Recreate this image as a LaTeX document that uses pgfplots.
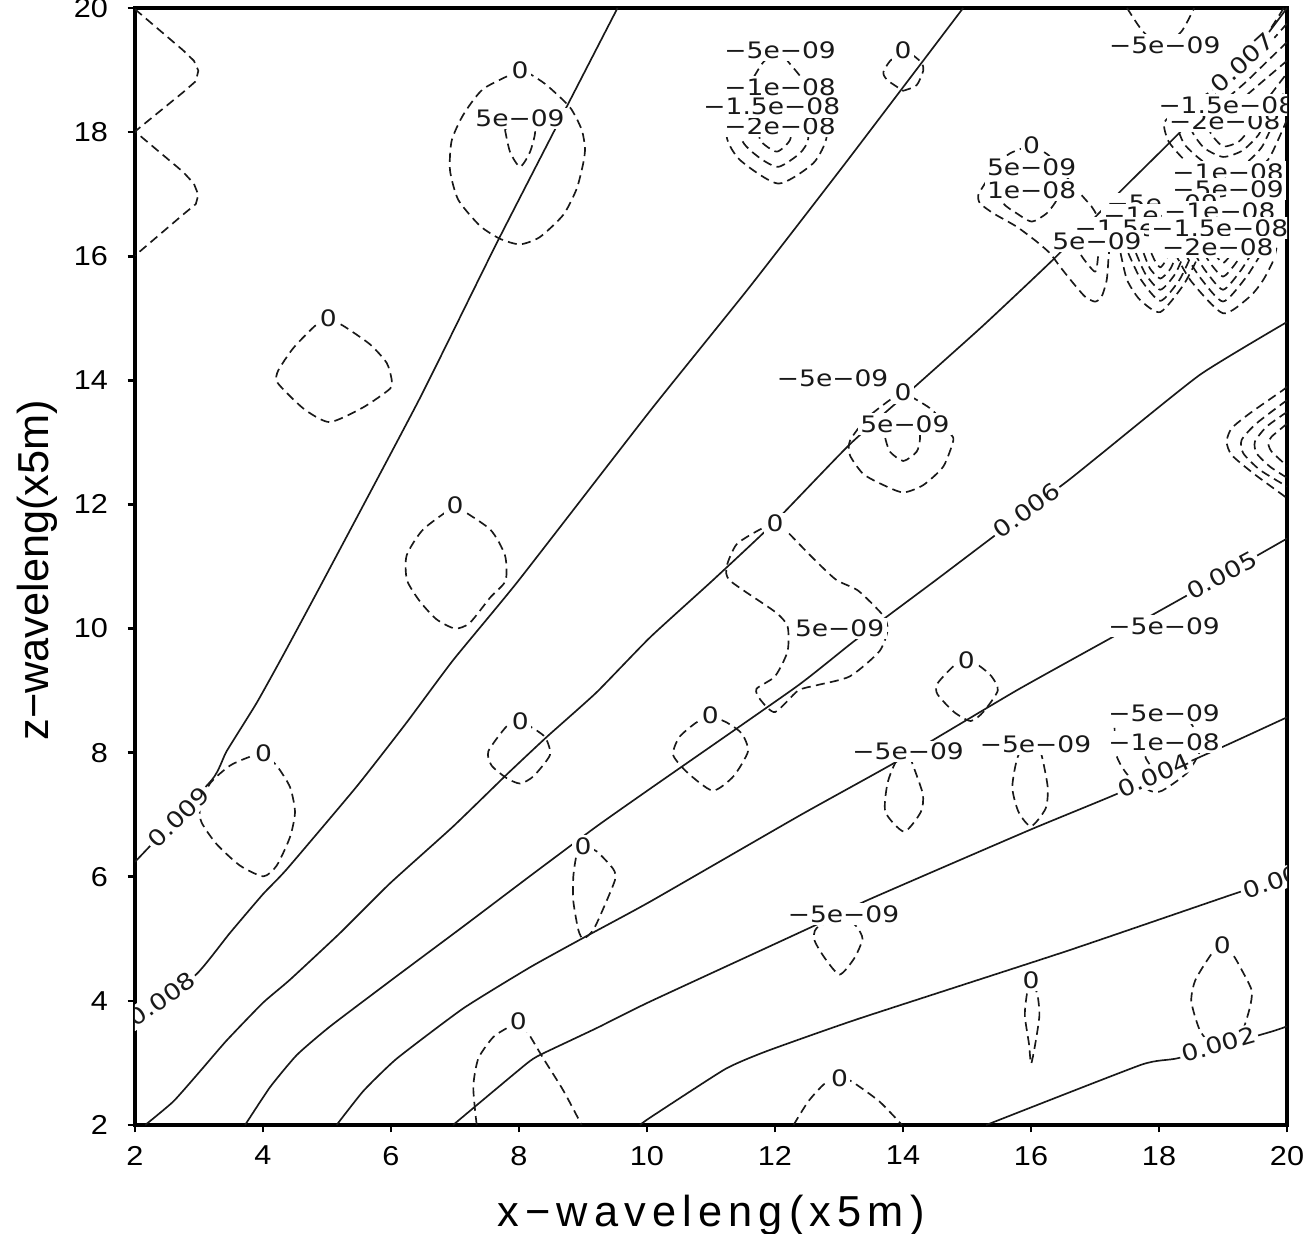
\documentclass[border=0pt]{standalone}
\usepackage{fontspec}
\setmainfont{Liberation Sans}
\newfontfamily\clabfont[FakeStretch=1.17]{DejaVu Sans}
\newfontfamily\xlabfont[LetterSpace=14.3]{Liberation Sans}
\newfontfamily\tickfont[FakeStretch=1.12]{Liberation Sans}
\usepackage{pgfplots}
\pgfplotsset{compat=1.18}
\pgfplotsset{
  sol/.style={black!90, line width=0.5pt, line join=round, smooth, tension=0.3},
  dsh/.style={black!90, line width=0.5pt, dash pattern=on 2.7pt off 1.6pt, line join=round, smooth, tension=0.4},
  dshp/.style={black!90, line width=0.5pt, dash pattern=on 2.7pt off 1.6pt, line join=round},
}
\tikzset{lab/.style={font=\fontsize{6.8}{8}\clabfont, fill=white, inner sep=0.7pt, text=black!90}}
\begin{document}
\begin{tikzpicture}
\begin{axis}[name=ax, at={(0,0)}, anchor=south west, scale only axis,
  width=345.6pt, height=335.1pt,
  xmin=2, xmax=20, ymin=2, ymax=20,
  xtick={2,4,...,20}, ytick={2,4,...,20},
  tick pos=left, tick align=outside, major tick length=2.2pt,
  every tick/.style={black, line width=0.8pt},
  axis line style={black, line width=1.1pt},
  /pgf/number format/assume math mode=true,
  tick label style={font=\fontsize{8.2}{10}\tickfont},
  xticklabel style={yshift=-0.6pt},
  yticklabel style={xshift=-2.4pt},
  xlabel={x−waveleng(x5m)}, ylabel={z−waveleng(x5m)},
  xlabel style={at={(axis description cs:0.5,-0.0913)}, anchor=base, font=\fontsize{13}{15}\xlabfont},
  ylabel style={at={(axis description cs:-0.0851,0.4968)}, anchor=center, font=\fontsize{13}{15}\selectfont},
]
% ---------- solid contours ----------
\addplot[sol] coordinates {(2.0,6.24)(3.2,7.56)(3.43,8.02)(3.90,8.80)(4.32,9.58)(4.94,10.77)(6.45,13.71)(7.70,16.31)(9.54,20.0)};
\addplot[sol] coordinates {(2.0,3.65)(2.96,4.43)(3.48,5.09)(4.0,5.72)(4.37,6.12)(5.46,7.45)(6.24,8.48)(6.97,9.49)(7.99,10.77)(10.05,13.51)(11.6,15.5)(13.1,17.5)(14.94,20.0)};
\addplot[sol] coordinates {(2.16,2.0)(2.6,2.38)(3.02,2.87)(3.43,3.36)(4.0,3.97)(4.42,4.34)(5.2,5.09)(5.98,5.89)(6.97,6.81)(7.81,7.65)(8.43,8.25)(9.21,8.97)(10.05,9.86)(11.03,10.78)(11.97,11.69)(13.17,12.97)(14.21,13.92)(15.25,14.88)(16.35,15.95)(17.44,17.09)(18.33,18.0)(19.34,19.11)(20.0,20.0)};
\addplot[sol] coordinates {(3.72,2.0)(4.11,2.61)(4.53,3.13)(5.05,3.59)(6.09,4.40)(7.13,5.20)(8.17,6.01)(9.21,6.81)(10.05,7.42)(12.33,9.06)(13.24,9.80)(14.5,10.77)(15.41,11.48)(16.56,12.37)(17.08,12.8)(18.64,14.09)(20.0,14.94)};
\addplot[sol] coordinates {(5.15,2.0)(5.57,2.55)(6.09,3.07)(7.13,3.88)(8.17,4.54)(9.03,5.03)(10.05,5.60)(12.39,6.99)(13.89,7.85)(15.77,9.0)(17.27,9.86)(18.38,10.50)(20.0,11.45)};
\addplot[sol] coordinates {(6.97,2.0)(7.34,2.32)(8.12,2.99)(8.33,3.13)(9.21,3.56)(10.05,3.99)(12.59,5.2)(13.46,5.63)(15.97,6.75)(17.33,7.33)(19.03,8.11)(20.0,8.57)};
\addplot[sol] coordinates {(9.89,2.0)(10.05,2.12)(11.22,2.9)(11.87,3.19)(13.3,3.71)(16.55,4.8)(19.16,5.72)(20.0,6.0)};
\addplot[sol] coordinates {(15.3,2.0)(17.72,2.97)(18.31,3.08)(19.74,3.5)(20.0,3.59)};
% ---------- dashed contours ----------
\addplot[dshp] coordinates {(2.0,19.98)(2.75,19.32)(2.92,19.15)(2.99,18.99)(2.95,18.82)(2.75,18.64)(2.0,18.01)(2.75,17.36)(2.92,17.17)(2.99,16.99)(2.95,16.84)(2.75,16.67)(2.0,16.01)};
\addplot[dsh] coordinates {(8.016,18.995)(7.443,18.697)(7.13,18.28)(6.948,17.862)(6.922,17.384)(7.052,16.907)(7.39,16.49)(7.703,16.281)(8.016,16.191)(8.328,16.31)(8.693,16.668)(8.901,17.086)(9.005,17.504)(9.031,17.742)(8.979,18.04)(8.797,18.399)(8.432,18.757)(8.172,18.936)(8.016,18.995)};
\addplot[dsh] coordinates {(7.781,18.04)(7.86,17.68)(8.016,17.44)(8.172,17.68)(8.25,18.04)(8.016,18.2)(7.781,18.04)};
\addplot[dsh] coordinates {(5.021,14.998)(4.813,14.878)(4.474,14.52)(4.24,14.163)(4.214,13.983)(4.422,13.745)(4.682,13.506)(5.047,13.327)(5.568,13.566)(5.984,13.864)(6.01,14.013)(5.932,14.282)(5.672,14.58)(5.255,14.878)(5.021,14.998)};
\addplot[dsh] coordinates {(7.0,11.98)(7.547,11.6)(7.781,11.18)(7.79,10.77)(7.55,10.5)(7.23,10.09)(7.0,10.0)(6.71,10.15)(6.45,10.44)(6.25,10.78)(6.245,11.18)(6.505,11.6)(7.0,11.98)};
\addplot[dsh] coordinates {(4.01,7.99)(3.797,7.935)(3.484,7.791)(3.172,7.503)(3.016,7.101)(3.042,6.871)(3.276,6.525)(3.641,6.18)(4.005,6.007)(4.214,6.18)(4.422,6.64)(4.5,7.043)(4.422,7.446)(4.214,7.791)(4.01,7.99)};
\addplot[dsh] coordinates {(8.016,8.51)(7.807,8.424)(7.521,8.021)(7.573,7.791)(7.807,7.59)(8.016,7.503)(8.224,7.618)(8.484,7.964)(8.406,8.251)(8.172,8.424)(8.016,8.51)};
\addplot[dsh] coordinates {(9.005,6.5)(8.901,6.353)(8.849,6.007)(8.849,5.605)(8.927,5.144)(9.005,5.0)(9.161,5.144)(9.318,5.49)(9.5,5.95)(9.474,6.123)(9.214,6.41)(9.005,6.5)};
\addplot[dsh] coordinates {(7.339,2.0)(7.286,2.613)(7.365,3.073)(7.599,3.418)(7.859,3.591)(7.99,3.68)(8.146,3.476)(8.38,3.073)(8.693,2.555)(8.979,2.0)};
\addplot[dsh] coordinates {(12.08,19.32)(11.82,19.13)(11.62,18.8)(11.4,18.4)(11.245,17.93)(11.453,17.55)(12.05,17.17)(12.599,17.5)(12.807,17.93)(12.65,18.4)(12.5,18.75)(12.34,18.97)(12.21,19.13)(12.08,19.32)};
\addplot[dsh] coordinates {(12.08,18.73)(11.7,18.5)(11.479,17.9)(11.74,17.6)(12.05,17.44)(12.39,17.66)(12.52,17.9)(12.45,18.4)(12.08,18.73)};
\addplot[dsh] coordinates {(12.0,18.41)(11.8,18.2)(11.766,17.873)(12.026,17.685)(12.234,17.873)(12.25,18.2)(12.0,18.41)};
\addplot[dsh] coordinates {(14.0,19.32)(13.797,19.145)(13.693,18.965)(13.745,18.846)(13.953,18.697)(14.005,18.667)(14.214,18.757)(14.318,18.995)(14.292,19.115)(14.161,19.234)(14.0,19.32)};
\addplot[dsh] coordinates {(16.01,17.79)(16.141,17.712)(16.271,17.631)(16.5,17.35)(16.766,17.013)(16.948,16.799)(17.026,16.664)(17.15,16.4)(17.22,16.15)(17.209,15.939)(17.183,15.617)(17.104,15.349)(17.0,15.268)(16.844,15.349)(16.662,15.563)(16.453,15.832)(16.297,16.047)(16.089,16.235)(15.776,16.476)(15.412,16.691)(15.203,16.852)(15.177,16.987)(15.282,17.175)(15.45,17.45)(15.672,17.658)(16.01,17.79)};
\addplot[dsh] coordinates {(15.6,17.07)(15.568,16.852)(15.776,16.691)(16.011,16.557)(16.245,16.691)(16.401,16.906)(16.4,17.07)};
\addplot[dsh] coordinates {(16.8,16.24)(16.766,16.047)(17.0,15.751)(17.052,16.047)(17.05,16.24)};
\addplot[dsh] coordinates {(14.0,13.8)(13.797,13.685)(13.432,13.387)(13.172,13.029)(13.172,12.79)(13.38,12.49)(13.693,12.313)(14.005,12.193)(14.318,12.313)(14.63,12.611)(14.786,13.029)(14.734,13.148)(14.474,13.506)(14.214,13.685)(14.0,13.8)};
\addplot[dsh] coordinates {(13.72,13.3)(13.719,13.089)(13.797,12.85)(14.005,12.7)(14.214,12.85)(14.266,13.059)(14.25,13.3)};
\addplot[dsh] coordinates {(12.0,11.69)(11.766,11.597)(11.401,11.358)(11.245,11.0)(11.3,10.77)(12.0,10.27)(12.196,10.035)(12.196,9.632)(12.0,9.23)(11.71,9.028)(11.77,8.855)(12.0,8.654)(12.36,9.0)(12.65,9.086)(13.17,9.23)(13.63,9.632)(13.76,9.978)(13.69,10.21)(13.3,10.61)(12.95,10.79)(12.55,11.18)(12.18,11.57)(12.0,11.69)};
\addplot[dsh] coordinates {(10.99,8.6)(10.765,8.482)(10.505,8.251)(10.408,7.964)(10.635,7.676)(11.026,7.388)(11.35,7.618)(11.578,8.021)(11.481,8.309)(11.253,8.482)(10.99,8.6)};
\addplot[dsh] coordinates {(14.99,9.49)(14.798,9.402)(14.538,9.114)(14.538,8.942)(14.798,8.654)(15.058,8.51)(15.253,8.654)(15.481,9.0)(15.383,9.23)(15.188,9.402)(14.99,9.49)};
\addplot[dsh] coordinates {(14.08,8.02)(13.887,7.849)(13.757,7.503)(13.725,7.043)(14.017,6.727)(14.278,7.043)(14.31,7.331)(14.148,7.82)(14.08,8.02)};
\addplot[dsh] coordinates {(16.07,8.14)(15.806,7.964)(15.708,7.446)(15.806,7.043)(16.001,6.813)(16.229,7.101)(16.261,7.446)(16.164,7.964)(16.07,8.14)};
\addplot[dsh] coordinates {(17.3,8.63)(17.334,7.964)(17.53,7.618)(17.855,7.388)(18.05,7.388)(18.44,7.676)(18.635,8.021)(18.6,8.3)(18.31,8.63)(17.3,8.63)};
\addplot[dsh] coordinates {(17.75,8.17)(17.8,7.9)(18.0,7.65)(18.25,7.75)(18.4,8.0)(18.4,8.17)};
\addplot[dsh] coordinates {(13.07,5.4)(12.65,5.173)(12.619,4.972)(12.782,4.684)(13.01,4.425)(13.237,4.684)(13.367,5.0)(13.27,5.202)(13.07,5.4)};
\addplot[dsh] coordinates {(16.0,4.34)(15.936,4.109)(15.904,3.763)(15.969,3.303)(16.001,2.987)(16.066,3.303)(16.131,3.763)(16.099,4.109)(16.0,4.34)};
\addplot[dsh] coordinates {(18.99,4.89)(18.83,4.77)(18.57,4.34)(18.505,3.993)(18.635,3.533)(18.83,3.274)(19.026,3.188)(19.286,3.476)(19.416,3.878)(19.449,4.166)(19.286,4.511)(19.156,4.742)(18.99,4.89)};
\addplot[dsh] coordinates {(12.29,2.0)(12.52,2.38)(12.78,2.67)(13.01,2.76)(13.2,2.7)(13.63,2.38)(13.985,2.0)};
\addplot[dsh] coordinates {(20.0,13.9)(19.94,13.845)(19.42,13.469)(19.135,13.227)(19.057,13.012)(19.135,12.797)(19.473,12.502)(19.968,12.126)(20.0,12.1)};
\addplot[dsh] coordinates {(20.0,13.68)(19.525,13.308)(19.291,13.039)(19.317,12.824)(19.577,12.556)(20.0,12.29)};
\addplot[dsh] coordinates {(20.0,13.49)(19.682,13.254)(19.499,13.012)(19.525,12.824)(19.734,12.609)(20.0,12.43)};
\addplot[dsh] coordinates {(20.0,13.3)(19.76,13.093)(19.707,12.985)(19.76,12.851)(20.0,12.62)};
\addplot[dsh] coordinates {(17.5,20.0)(17.75,19.62)(18.05,19.4)(18.35,19.62)(18.55,20.0)};
\addplot[dsh] coordinates {(19.95,20.0)(19.6,19.45)(19.2,19.0)(18.8,18.65)(18.3,18.35)(18.08,18.15)(18.15,17.85)(18.4,17.55)(18.75,17.3)(19.05,17.2)(19.4,17.3)(19.7,17.55)(19.85,17.85)(20.0,18.2)};
\addplot[dsh] coordinates {(20.0,19.75)(19.7,19.4)(19.3,18.95)(18.9,18.6)(18.5,18.35)(18.3,18.1)(18.4,17.8)(18.7,17.52)(19.0,17.42)(19.35,17.5)(19.6,17.75)(19.75,18.05)(20.0,18.45)};
\addplot[dsh] coordinates {(20.0,19.45)(19.7,19.15)(19.35,18.8)(19.0,18.5)(18.6,18.25)(18.5,18.05)(18.7,17.75)(19.0,17.6)(19.3,17.7)(19.55,17.95)(19.7,18.25)(20.0,18.7)};
\addplot[dsh] coordinates {(20.0,19.15)(19.6,18.8)(19.2,18.45)(18.85,18.2)(18.8,18.0)(19.0,17.77)(19.25,17.85)(19.45,18.1)(19.6,18.4)(20.0,18.95)};
\addplot[dsh] coordinates {(17.40,16.05)(17.5,15.62)(17.7,15.3)(18.02,15.10)(18.39,15.55)(18.64,16.05)};
\addplot[dsh] coordinates {(17.52,16.05)(17.72,15.62)(18.02,15.28)(18.32,15.62)(18.52,16.05)};
\addplot[dsh] coordinates {(17.64,16.05)(17.79,15.71)(18.02,15.46)(18.25,15.71)(18.40,16.05)};
\addplot[dsh] coordinates {(17.76,16.05)(17.86,15.8)(18.02,15.64)(18.18,15.8)(18.28,16.05)};
\addplot[dsh] coordinates {(17.88,16.05)(17.94,15.92)(18.02,15.82)(18.10,15.92)(18.16,16.05)};
\addplot[dsh] coordinates {(18.25,16.05)(18.5,15.6)(19.0,15.08)(19.42,15.35)(19.63,15.62)(19.79,15.94)(19.84,16.16)};
\addplot[dsh] coordinates {(18.40,16.05)(18.64,15.66)(19.0,15.27)(19.36,15.66)(19.60,16.05)};
\addplot[dsh] coordinates {(18.55,16.05)(18.73,15.76)(19.0,15.46)(19.27,15.76)(19.45,16.05)};
\addplot[dsh] coordinates {(18.70,16.05)(18.82,15.86)(19.0,15.67)(19.18,15.86)(19.30,16.05)};
\addplot[dsh] coordinates {(18.85,16.05)(18.91,15.98)(19.0,15.89)(19.09,15.98)(19.15,16.05)};
% ---------- labels ----------
\node[lab, rotate=45] at (axis cs:2.68,6.96) {0.009};
\node[lab, rotate=35] at (axis cs:2.42,4.03) {0.008};
\node[lab, rotate=36] at (axis cs:15.93,11.9) {0.006};
\node[lab, rotate=28] at (axis cs:18.98,10.86) {0.005};
\node[lab, rotate=24] at (axis cs:17.92,7.63) {0.004};
\node[lab, rotate=19] at (axis cs:19.88,5.96) {0.003};
\node[lab, rotate=16] at (axis cs:18.93,3.3) {0.002};
\node[lab] at (axis cs:8.016,18.995) {0};
\node[lab] at (axis cs:8.016,18.22) {5e−09};
\node[lab] at (axis cs:5.02,15.0) {0};
\node[lab] at (axis cs:7.0,11.98) {0};
\node[lab] at (axis cs:4.01,7.99) {0};
\node[lab] at (axis cs:8.02,8.51) {0};
\node[lab] at (axis cs:9.0,6.5) {0};
\node[lab] at (axis cs:7.99,3.68) {0};
\node[lab] at (axis cs:12.08,19.32) {−5e−09};
\node[lab] at (axis cs:12.08,18.73) {−1e−08};
\node[lab] at (axis cs:12.08,18.09) {−2e−08};
\node[lab] at (axis cs:11.95,18.41) {−1.5e−08};
\node[lab] at (axis cs:14.0,19.32) {0};
\node[lab] at (axis cs:16.01,17.79) {0};
\node[lab] at (axis cs:16.01,17.44) {5e−09};
\node[lab] at (axis cs:16.01,17.07) {1e−08};
\node[lab] at (axis cs:12.9,14.03) {−5e−09};
\node[lab] at (axis cs:14.0,13.8) {0};
\node[lab] at (axis cs:14.03,13.3) {5e−09};
\node[lab] at (axis cs:12.0,11.69) {0};
\node[lab] at (axis cs:13.01,10.0) {5e−09};
\node[lab] at (axis cs:10.99,8.6) {0};
\node[lab] at (axis cs:14.99,9.49) {0};
\node[lab] at (axis cs:18.08,10.04) {−5e−09};
\node[lab] at (axis cs:14.08,8.02) {−5e−09};
\node[lab] at (axis cs:16.07,8.14) {−5e−09};
\node[lab] at (axis cs:18.08,8.63) {−5e−09};
\node[lab] at (axis cs:18.08,8.17) {−1e−08};
\node[lab] at (axis cs:13.07,5.4) {−5e−09};
\node[lab] at (axis cs:16.0,4.34) {0};
\node[lab] at (axis cs:18.99,4.89) {0};
\node[lab] at (axis cs:13.01,2.76) {0};
\node[lab] at (axis cs:18.09,19.4) {−5e−09};
\node[lab, rotate=42] at (axis cs:19.3,19.12) {0.007};
\node[lab] at (axis cs:19.03,18.17) {−2e−08};
\node[lab] at (axis cs:19.06,18.44) {−1.5e−08};
\node[lab] at (axis cs:19.08,17.36) {−1e−08};
\node[lab] at (axis cs:19.08,17.08) {−5e−09};
\node[lab] at (axis cs:18.05,16.85) {−5e−09};
\node[lab] at (axis cs:18.0,16.66) {−1e−08};
\node[lab] at (axis cs:18.95,16.72) {−1e−08};
\node[lab] at (axis cs:17.75,16.45) {−1.5e−08};
\node[lab] at (axis cs:18.95,16.45) {−1.5e−08};
\node[lab] at (axis cs:17.03,16.24) {5e−09};
\node[lab] at (axis cs:18.92,16.15) {−2e−08};
\end{axis}
\pgfresetboundingbox
\path[use as bounding box] ([shift={(-40.5pt,-32.4pt)}]ax.south west) rectangle ([shift={(4.8pt,2.4pt)}]ax.north east);
\end{tikzpicture}
\end{document}
